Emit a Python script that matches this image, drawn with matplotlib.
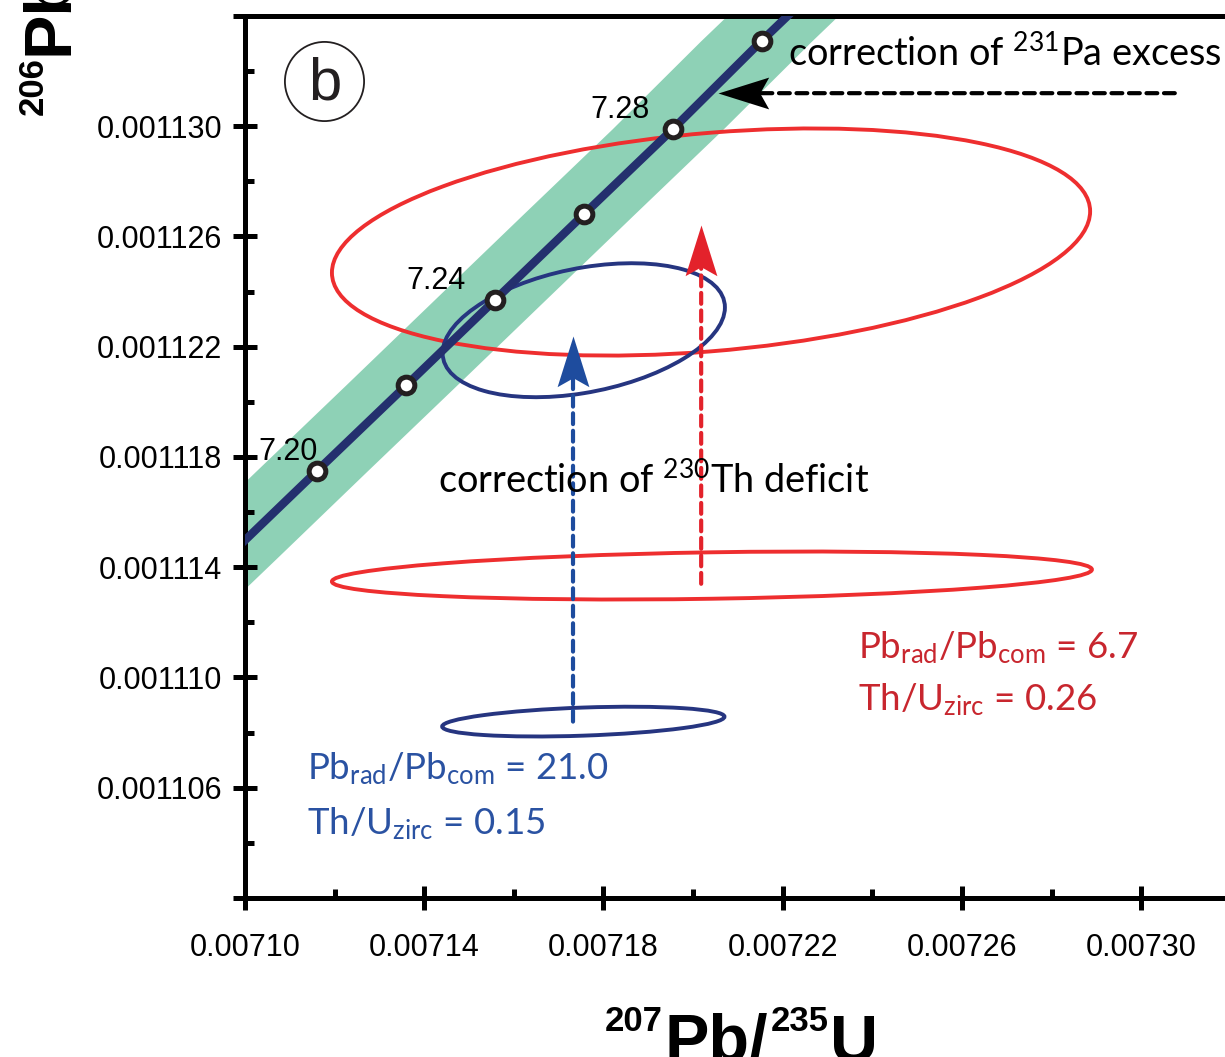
import numpy as np
import matplotlib
matplotlib.use("Agg")
import matplotlib.pyplot as plt
from matplotlib.patches import Circle
from matplotlib.path import Path
from matplotlib.markers import MarkerStyle
from matplotlib.transforms import Affine2D, IdentityTransform
from matplotlib.ticker import MultipleLocator, FormatStrFormatter

TXT_FONT = "Lato"
plt.rcParams["font.family"] = ["Liberation Sans", "DejaVu Sans"]
plt.rcParams["mathtext.fontset"] = "custom"
plt.rcParams["mathtext.rm"] = TXT_FONT
plt.rcParams["mathtext.it"] = TXT_FONT + ":italic"
plt.rcParams["mathtext.bf"] = TXT_FONT + ":bold"
plt.rcParams["mathtext.default"] = "regular"

# concordia points (age in Ma, 207Pb/235U, 206Pb/238U)
ages = np.array([7.16, 7.18, 7.20, 7.22, 7.24, 7.26, 7.28, 7.30, 7.32])
conc_x = np.array([0.0070764, 0.0070963, 0.0071161, 0.0071360, 0.0071558,
                   0.0071756, 0.0071955, 0.0072153, 0.0072352])
conc_y = np.array([0.0011113, 0.0011144, 0.0011175, 0.0011206, 0.0011237,
                   0.0011268, 0.0011299, 0.0011331, 0.0011362])
marked_ages = [7.20, 7.22, 7.24, 7.26, 7.28, 7.30]
labelled_ages = [7.20, 7.24, 7.28]
label_pos = [(0.0071163, 0.0011179), (0.0071493, 0.0011241), (0.0071904, 0.0011303)]
band_lo = 1.36e-5  # decay constant band, left side
band_hi = 1.12e-5  # right side

# error ellipses: centre, half widths, correlation
ell_cx = [0.0072042, 0.0072040, 0.0071755, 0.0071756]
ell_cy = [0.0011137, 0.0011258, 0.0011084, 0.0011226]
ell_sx = [8.48e-5, 8.46e-5, 3.15e-5, 3.15e-5]
ell_sy = [8.7e-7, 4.12e-6, 5.4e-7, 2.43e-6]
ell_rho = [0.25, 0.27, 0.33, 0.34]
ell_color = ["#EE2E2F", "#EE2E2F", "#263580", "#263580"]

# correction arrows: start, tip, colour, direction
arrow_start = [(0.0071732, 0.0011084), (0.0072018, 0.0011134), (0.0073075, 0.0011312)]
arrow_tip = [(0.0071732, 0.0011224), (0.0072018, 0.0011264), (0.0072055, 0.0011312)]
arrow_color = ["#1E4C9E", "#E3222B", "black"]
arrow_rot = [0, 0, 90]

x_ticks = [0.00710, 0.00714, 0.00718, 0.00722, 0.00726, 0.00730]
y_ticks = [0.001102, 0.001106, 0.001110, 0.001114, 0.001118,
           0.001122, 0.001126, 0.001130, 0.001134]

RED_TXT = "#C8262E"
BLUE_TXT = "#2A52A2"

fig = plt.figure(figsize=(12.25, 10.57), dpi=100)
ax = fig.add_axes([245 / 1225, 159 / 1057, 980 / 1225, 882 / 1057])
ax.set_xlim(0.00710, 0.0073187)
ax.set_ylim(0.001102, 0.001134)

# decay constant band + concordia
ax.fill_betweenx(conc_y, conc_x - band_lo, conc_x + band_hi,
                 color="#8ED1B6", lw=0, zorder=1)
ax.plot(conc_x, conc_y, color="#24306E", lw=6, zorder=3)
sel = np.isin(np.round(ages, 2), marked_ages)
ax.plot(conc_x[sel], conc_y[sel], "o", ms=12, mfc="white", mec="#231F20",
        mew=3.6, zorder=4)
for age, (lx, ly) in zip(labelled_ages, label_pos):
    ax.text(lx, ly, f"{age:.2f}", fontsize=22, ha="right", va="baseline", zorder=5)

# error ellipses from a unit circle
for cx, cy, sx, sy, rho, c in zip(ell_cx, ell_cy, ell_sx, ell_sy, ell_rho, ell_color):
    m = Affine2D(np.array([[sx, 0, cx],
                           [rho * sy, np.sqrt(1 - rho ** 2) * sy, cy],
                           [0, 0, 1]]))
    ax.add_patch(Circle((0, 0), 1, transform=m + ax.transData, fill=False,
                        ec=c, lw=2.8, zorder=2))

# arrows: dashed shaft (stops short of the tip) + stealth head marker
head = Path([(0, 0), (-16, -51), (0, -42), (16, -51), (0, 0)],
            [Path.MOVETO, Path.LINETO, Path.LINETO, Path.LINETO, Path.CLOSEPOLY])
for (x0, y0), (x1, y1), c, rot in zip(arrow_start, arrow_tip, arrow_color, arrow_rot):
    ax.annotate("", xy=(x1, y1), xytext=(x0, y0),
                arrowprops=dict(arrowstyle="-", color=c, lw=3, ls=(0, (2.6, 1.6)),
                                shrinkA=0, shrinkB=27), zorder=5)
    ax.plot([x1], [y1], marker=MarkerStyle(head, transform=Affine2D().rotate_deg(rot)),
            ms=73, color=c, mew=0, zorder=6)

# annotations
ax.text(0.0072212, 0.0011322, r"correction of $^{231}$Pa excess",
        family=TXT_FONT, fontsize=27.3, zorder=6)
ax.text(0.0071431, 0.0011167, r"correction of $^{230}$Th deficit",
        family=TXT_FONT, fontsize=27.3, zorder=6)
ax.text(0.0072368, 0.0011107, r"Pb$_{rad}$/Pb$_{com}$ = 6.7",
        family=TXT_FONT, fontsize=26.4, color=RED_TXT)
ax.text(0.0072368, 0.0011088, r"Th/U$_{zirc}$ = 0.26",
        family=TXT_FONT, fontsize=26.4, color=RED_TXT)
ax.text(0.0071138, 0.0011063, r"Pb$_{rad}$/Pb$_{com}$ = 21.0",
        family=TXT_FONT, fontsize=26.4, color=BLUE_TXT)
ax.text(0.0071138, 0.0011043, r"Th/U$_{zirc}$ = 0.15",
        family=TXT_FONT, fontsize=26.4, color=BLUE_TXT)

# panel letter
ax.plot([0.0806], [0.9263], "o", ms=57, mfc="none", mec="#231F20", mew=1.3,
        transform=ax.transAxes, clip_on=False)
ax.text(0.0816, 0.9048, "b", fontsize=43, ha="center", va="baseline",
        transform=ax.transAxes, color="#231F20")

# axes styling
for side in ["left", "bottom", "top"]:
    ax.spines[side].set_linewidth(3.6)
ax.spines["right"].set_visible(False)
ax.set_xticks(x_ticks)
ax.xaxis.set_minor_locator(MultipleLocator(0.00002))
ax.xaxis.set_major_formatter(FormatStrFormatter("%.5f"))
ax.set_yticks(y_ticks, ["" if v in (y_ticks[0], y_ticks[-1]) else f"{v:.6f}" for v in y_ticks])
ax.yaxis.set_minor_locator(MultipleLocator(0.000002))
ax.tick_params(which="major", direction="inout", length=17, width=3.6, labelsize=22)
ax.tick_params(which="minor", direction="in", length=6.5, width=3.6)
ax.tick_params(axis="x", which="major", pad=17)
ax.tick_params(axis="y", which="major", pad=8)


def draw_runs(fig, x, y, runs, rotation=0, **kw):
    """Lay out text pieces with own sizes (for small superscripts)."""
    renderer = fig.canvas.get_renderer()
    for text, size, rise in runs:
        if rotation == 0:
            t = fig.text(x, y + rise, text, fontsize=size, transform=IdentityTransform(),
                         ha="left", va="baseline", **kw)
            x += t.get_window_extent(renderer).width + 2
        else:
            t = fig.text(x - rise, y, text, fontsize=size, rotation=90,
                         rotation_mode="anchor", transform=IdentityTransform(),
                         ha="left", va="baseline", **kw)
            y += t.get_window_extent(renderer).height + 2


draw_runs(fig, 605, -4, [("207", 25, 30), ("Pb/", 48, 0), ("235", 25, 30), ("U", 48, 0)],
          fontweight="bold")
draw_runs(fig, 67, 942, [("206", 25, 24), ("Pb/", 48, 0), ("238", 25, 24), ("U", 48, 0)],
          rotation=90, fontweight="bold")

fig.savefig("out.png", dpi=100)
